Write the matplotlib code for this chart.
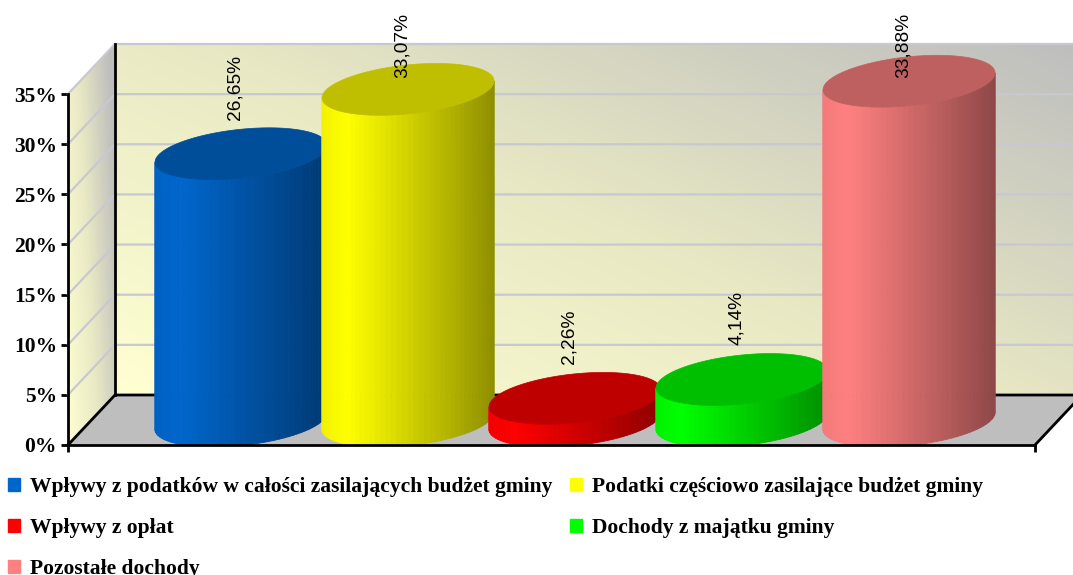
import numpy as np
import matplotlib
matplotlib.use('Agg')
import matplotlib.pyplot as plt
from matplotlib.patches import Patch, Polygon
from matplotlib.colors import LinearSegmentedColormap

categories = ['Wpływy z podatków w całości zasilających budżet gminy',
              'Podatki częściowo zasilające budżet gminy',
              'Wpływy z opłat',
              'Dochody z majątku gminy',
              'Pozostałe dochody']
values = [26.65, 33.07, 2.26, 4.14, 33.88]
value_labels = ['26,65%', '33,07%', '2,26%', '4,14%', '33,88%']
bar_colors = ['#0066CC', '#FFFF00', '#FF0000', '#00FF00', '#FF8080']
y_ticks = [0, 5, 10, 15, 20, 25, 30, 35]
y_tick_labels = ['0%', '5%', '10%', '15%', '20%', '25%', '30%', '35%']

W, H = 1073, 575
left, right, bottom, top = 68, 1035, 445, 94
cat_px = 167.0
val_px = (bottom - top) / 35.0
depth_x = 47 / cat_px
depth_y = 50 / val_px

fig = plt.figure(figsize=(W / 100, H / 100), dpi=100)
ax = fig.add_axes([left / W, 1 - bottom / H, (right - left) / W, (bottom - top) / H])
x_min = -(217 - left) / cat_px
x_max = x_min + (right - left) / cat_px
ax.patch.set_visible(False)

# walls are gradient images clipped to the 3D shape
wall_cmap = LinearSegmentedColormap.from_list('wall', ['#FFFFD2', '#E8E8C4', '#BEBEBE'])
gx, gy = np.meshgrid(np.linspace(0, 1, 200), np.linspace(0, 1, 200))

back = Polygon([(x_min + depth_x, depth_y), (x_max + depth_x, depth_y),
                (x_max + depth_x, 35 + depth_y), (x_min + depth_x, 35 + depth_y)],
               transform=ax.transData, fc='none', ec='none')
im = ax.imshow(0.55 * gx + 0.45 * gy, origin='lower', cmap=wall_cmap, vmin=0, vmax=1, aspect='auto',
               extent=(x_min + depth_x, x_max + depth_x, depth_y, 35 + depth_y), zorder=1)
im.set_clip_box(fig.bbox)
im.set_clip_path(back)

side = Polygon([(x_min, 0), (x_min + depth_x, depth_y), (x_min + depth_x, 35 + depth_y), (x_min, 35)],
               transform=ax.transData, fc='none', ec='none')
im2 = ax.imshow(0.75 * gx + 0.35 * gy, origin='lower', cmap=wall_cmap, vmin=0, vmax=1, aspect='auto',
                extent=(x_min, x_min + depth_x, 0, 35 + depth_y), zorder=1)
im2.set_clip_box(fig.bbox)
im2.set_clip_path(side)

# floor
ax.fill([x_min, x_min + depth_x, x_max + depth_x, x_max], [0, depth_y, depth_y, 0],
        color='#BEBEBE', zorder=1, clip_on=False)

# grid on the walls
for v in y_ticks[1:]:
    ax.plot([x_min, x_min + depth_x, x_max + depth_x], [v, v + depth_y, v + depth_y],
            color='#C8C8D0', lw=1.6, zorder=2, clip_on=False)

# black edges of the box
ax.plot([x_min + depth_x, x_min + depth_x], [depth_y, 35 + depth_y], color='black', lw=2, zorder=3, clip_on=False)
ax.plot([x_min, x_min + depth_x, x_max + depth_x], [0, depth_y, depth_y], color='black', lw=2, zorder=3, clip_on=False)
ax.plot([x_max, x_max + depth_x], [0, depth_y], color='black', lw=2, zorder=3, clip_on=False)

# cylinders, drawn left to right so each one covers the previous one
rx = 86 / cat_px
ry = 24.5 / val_px
shear = 8.5 / val_px
mid_x = 24 / cat_px
mid_y = 24 / val_px
shade_u = [0.0, 0.15, 0.35, 0.7, 1.0]
shade_f = [0.95, 1.0, 0.9, 0.72, 0.56]
strips = 48

for i, (v, c) in enumerate(zip(values, bar_colors)):
    rgb = np.array(matplotlib.colors.to_rgb(c))
    cx = i + mid_x
    a = np.linspace(np.pi, 2 * np.pi, strips + 1)
    sx = cx + rx * np.cos(a)
    arc = shear * np.cos(a) + ry * np.sin(a)
    u = (sx - sx[0]) / (sx[-1] - sx[0])
    for k in range(strips):
        col = rgb * np.interp((u[k] + u[k + 1]) / 2, shade_u, shade_f)
        xs = [sx[k], sx[k + 1], sx[k + 1], sx[k]]
        ys = [max(mid_y + arc[k], 0), max(mid_y + arc[k + 1], 0), mid_y + v + arc[k + 1], mid_y + v + arc[k]]
        ax.fill(xs, ys, color=col, lw=0.6, zorder=4 + i, clip_on=False)
    t = np.linspace(0, 2 * np.pi, 121)
    tx = cx + rx * np.cos(t)
    ty = mid_y + v + shear * np.cos(t) + ry * np.sin(t)
    ax.fill(tx, ty, color=rgb * 0.75, lw=0.5, zorder=4 + i, clip_on=False)

for i, (v, lab) in enumerate(zip(values, value_labels)):
    y = min(v + 5.8, (bottom - 78) / val_px)
    ax.text(i + mid_x - 6 / cat_px, y, lab, rotation=90, ha='center', va='bottom', color='black',
            family='Liberation Sans', fontsize=13.8, zorder=20, clip_on=False)

ax.set_xlim(x_min, x_max)
ax.set_ylim(0, 35)
ax.set_yticks(y_ticks)
ax.set_yticklabels(y_tick_labels, family='Liberation Serif', fontweight='bold', fontsize=15.5)
ax.set_xticks([x_min, x_max])
ax.set_xticklabels(['', ''])
ax.tick_params(axis='both', length=5, width=2, pad=3, color='black')
for name in ['top', 'right']:
    ax.spines[name].set_visible(False)
for name in ['left', 'bottom']:
    ax.spines[name].set_linewidth(2)
    ax.spines[name].set_zorder(15)

# only the bottom of the title letters is inside the picture
for px, letter in [(363, 'p'), (505, 'g')]:
    fig.text(px / W, 1 + 5 / H, letter, family='Liberation Serif', fontweight='bold', fontsize=17,
             ha='center', va='baseline')

handles = [Patch(color=c) for c in bar_colors]
order = [0, 2, 4, 1, 3]
leg = fig.legend([handles[i] for i in order], [categories[i] for i in order],
                 ncol=2, loc='upper left', bbox_to_anchor=(8 / W, 1 - 477 / H), frameon=False,
                 prop={'family': 'Liberation Serif', 'weight': 'bold', 'size': 15.5},
                 handlelength=0.56, handleheight=0.56, handletextpad=0.48,
                 labelspacing=0.98, columnspacing=0.8, borderpad=0, borderaxespad=0)

fig.savefig('out.png', dpi=100)
